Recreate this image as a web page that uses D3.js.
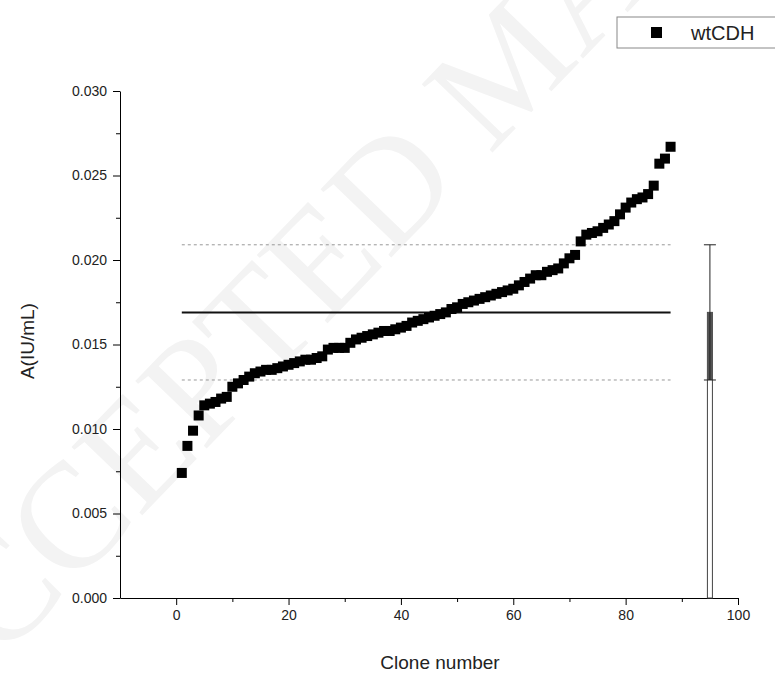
<!DOCTYPE html>
<html>
<head>
<meta charset="utf-8">
<script src="https://cdn.jsdelivr.net/npm/d3@7"></script>
<style>
  body { margin: 0; background: #fff; }
  svg { font-family: "Liberation Sans", Arial, sans-serif; }
</style>
</head>
<body>
<script>
// clone activity values, sorted
var clones = d3.range(1, 89);
var activity = [
  0.0074, 0.0090, 0.0099, 0.0108, 0.0114, 0.0115, 0.0116, 0.0118, 0.0119, 0.0125,
  0.0127, 0.0129, 0.0131, 0.0133, 0.0134, 0.0135, 0.0135, 0.0136, 0.0137, 0.0138,
  0.0139, 0.0140, 0.0141, 0.0141, 0.0142, 0.0143, 0.0147, 0.0148, 0.0148, 0.0148,
  0.0151, 0.0153, 0.0154, 0.0155, 0.0156, 0.0157, 0.0158, 0.0158, 0.0159, 0.0160,
  0.0161, 0.0163, 0.0164, 0.0165, 0.0166, 0.0167, 0.0168, 0.0169, 0.0171, 0.0172,
  0.0174, 0.0175, 0.0176, 0.0177, 0.0178, 0.0179, 0.0180, 0.0181, 0.0182, 0.0183,
  0.0185, 0.0187, 0.0189, 0.0191, 0.0191, 0.0193, 0.0194, 0.0195, 0.0198, 0.0201,
  0.0203, 0.0211, 0.0215, 0.0216, 0.0217, 0.0219, 0.0221, 0.0223, 0.0227, 0.0231,
  0.0234, 0.0236, 0.0237, 0.0239, 0.0244, 0.0257, 0.0260, 0.0267
];
var meanValue = 0.0169;
var sdValue = 0.0040;
var summaryClone = 95;
var xTicks = [0, 20, 40, 60, 80, 100];
var xMinor = [10, 30, 50, 70, 90];
var yTicks = [0, 0.005, 0.010, 0.015, 0.020, 0.025, 0.030];
var yMinor = [0.0025, 0.0075, 0.0125, 0.0175, 0.0225, 0.0275];
var seriesName = "wtCDH";

var width = 775, height = 675;
var svg = d3.select("body").append("svg")
    .attr("width", width)
    .attr("height", height);

// faint watermark from the source page
svg.append("text")
    .attr("transform", "translate(-75,740) rotate(-46)")
    .attr("font-family", "Liberation Serif, DejaVu Serif, serif")
    .attr("font-size", 150)
    .attr("fill", "#f3f3f3")
    .text("ACCEPTED MANUSCRIPT");

var x = d3.scaleLinear().domain([-10, 100]).range([120, 738]);
var y = d3.scaleLinear().domain([0, 0.03]).range([598, 91]);

svg.append("g")
    .attr("transform", "translate(0," + y(0) + ")")
    .call(d3.axisBottom(x).tickValues(xTicks).tickSize(7).tickSizeOuter(0).tickPadding(5));
svg.append("g")
    .attr("transform", "translate(0," + y(0) + ")")
    .call(d3.axisBottom(x).tickValues(xMinor).tickSize(4).tickFormat("").tickSizeOuter(0))
    .select(".domain").remove();

svg.append("g")
    .attr("transform", "translate(" + x(-10) + ",0)")
    .call(d3.axisLeft(y).tickValues(yTicks).tickSize(7).tickSizeOuter(0).tickPadding(6)
        .tickFormat(d3.format(".3f")));
svg.append("g")
    .attr("transform", "translate(" + x(-10) + ",0)")
    .call(d3.axisLeft(y).tickValues(yMinor).tickSize(4).tickFormat("").tickSizeOuter(0))
    .select(".domain").remove();

svg.selectAll(".tick text")
    .attr("font-size", 14)
    .attr("fill", "#222");

// reference lines: mean and mean +/- sd
var lineX0 = x(clones[0]), lineX1 = x(clones[clones.length - 1]);
svg.append("line")
    .attr("x1", lineX0).attr("x2", lineX1)
    .attr("y1", y(meanValue)).attr("y2", y(meanValue))
    .attr("stroke", "#111").attr("stroke-width", 2);
[meanValue + sdValue, meanValue - sdValue].forEach(function (v) {
    svg.append("line")
        .attr("x1", lineX0).attr("x2", lineX1)
        .attr("y1", y(v)).attr("y2", y(v))
        .attr("stroke", "#999").attr("stroke-width", 1)
        .attr("stroke-dasharray", "3,3");
});

// data points
var data = clones.map(function (c, i) { return {clone: c, value: activity[i]}; });
svg.append("g").selectAll("rect")
    .data(data)
    .enter().append("rect")
    .attr("x", function (d) { return x(d.clone) - 5; })
    .attr("y", function (d) { return y(d.value) - 5; })
    .attr("width", 10)
    .attr("height", 10)
    .attr("fill", "#000");

// summary bar with error bar at clone 95
var bx = x(summaryClone);
svg.append("rect")
    .attr("x", bx - 2.5).attr("y", y(meanValue))
    .attr("width", 5).attr("height", y(0) - y(meanValue))
    .attr("fill", "none").attr("stroke", "#444").attr("stroke-width", 1);
svg.append("rect")
    .attr("x", bx - 2.5).attr("y", y(meanValue))
    .attr("width", 5).attr("height", y(meanValue - sdValue) - y(meanValue))
    .attr("fill", "#555");
svg.append("line")
    .attr("x1", bx).attr("x2", bx)
    .attr("y1", y(meanValue + sdValue)).attr("y2", y(meanValue - sdValue))
    .attr("stroke", "#222").attr("stroke-width", 1);
[meanValue + sdValue, meanValue - sdValue].forEach(function (v) {
    svg.append("line")
        .attr("x1", bx - 6).attr("x2", bx + 6)
        .attr("y1", y(v)).attr("y2", y(v))
        .attr("stroke", "#222").attr("stroke-width", 1);
});

// axis titles
svg.append("text")
    .attr("x", (x(-10) + x(100)) / 2 + 11)
    .attr("y", 669)
    .attr("text-anchor", "middle")
    .attr("font-size", 19)
    .attr("fill", "#222")
    .text("Clone number");
svg.append("text")
    .attr("transform", "translate(34," + y(0.0152) + ") rotate(-90)")
    .attr("text-anchor", "middle")
    .attr("font-size", 19)
    .attr("fill", "#222")
    .text("A(IU/mL)");

// legend
var legend = svg.append("g");
legend.append("rect")
    .attr("x", 617).attr("y", 17)
    .attr("width", 170).attr("height", 31)
    .attr("fill", "#fff").attr("stroke", "#888").attr("stroke-width", 1);
legend.append("rect")
    .attr("x", 651).attr("y", 27)
    .attr("width", 11).attr("height", 11)
    .attr("fill", "#000");
legend.append("text")
    .attr("x", 691).attr("y", 40)
    .attr("font-size", 20)
    .attr("fill", "#222")
    .text(seriesName);
</script>
</body>
</html>
